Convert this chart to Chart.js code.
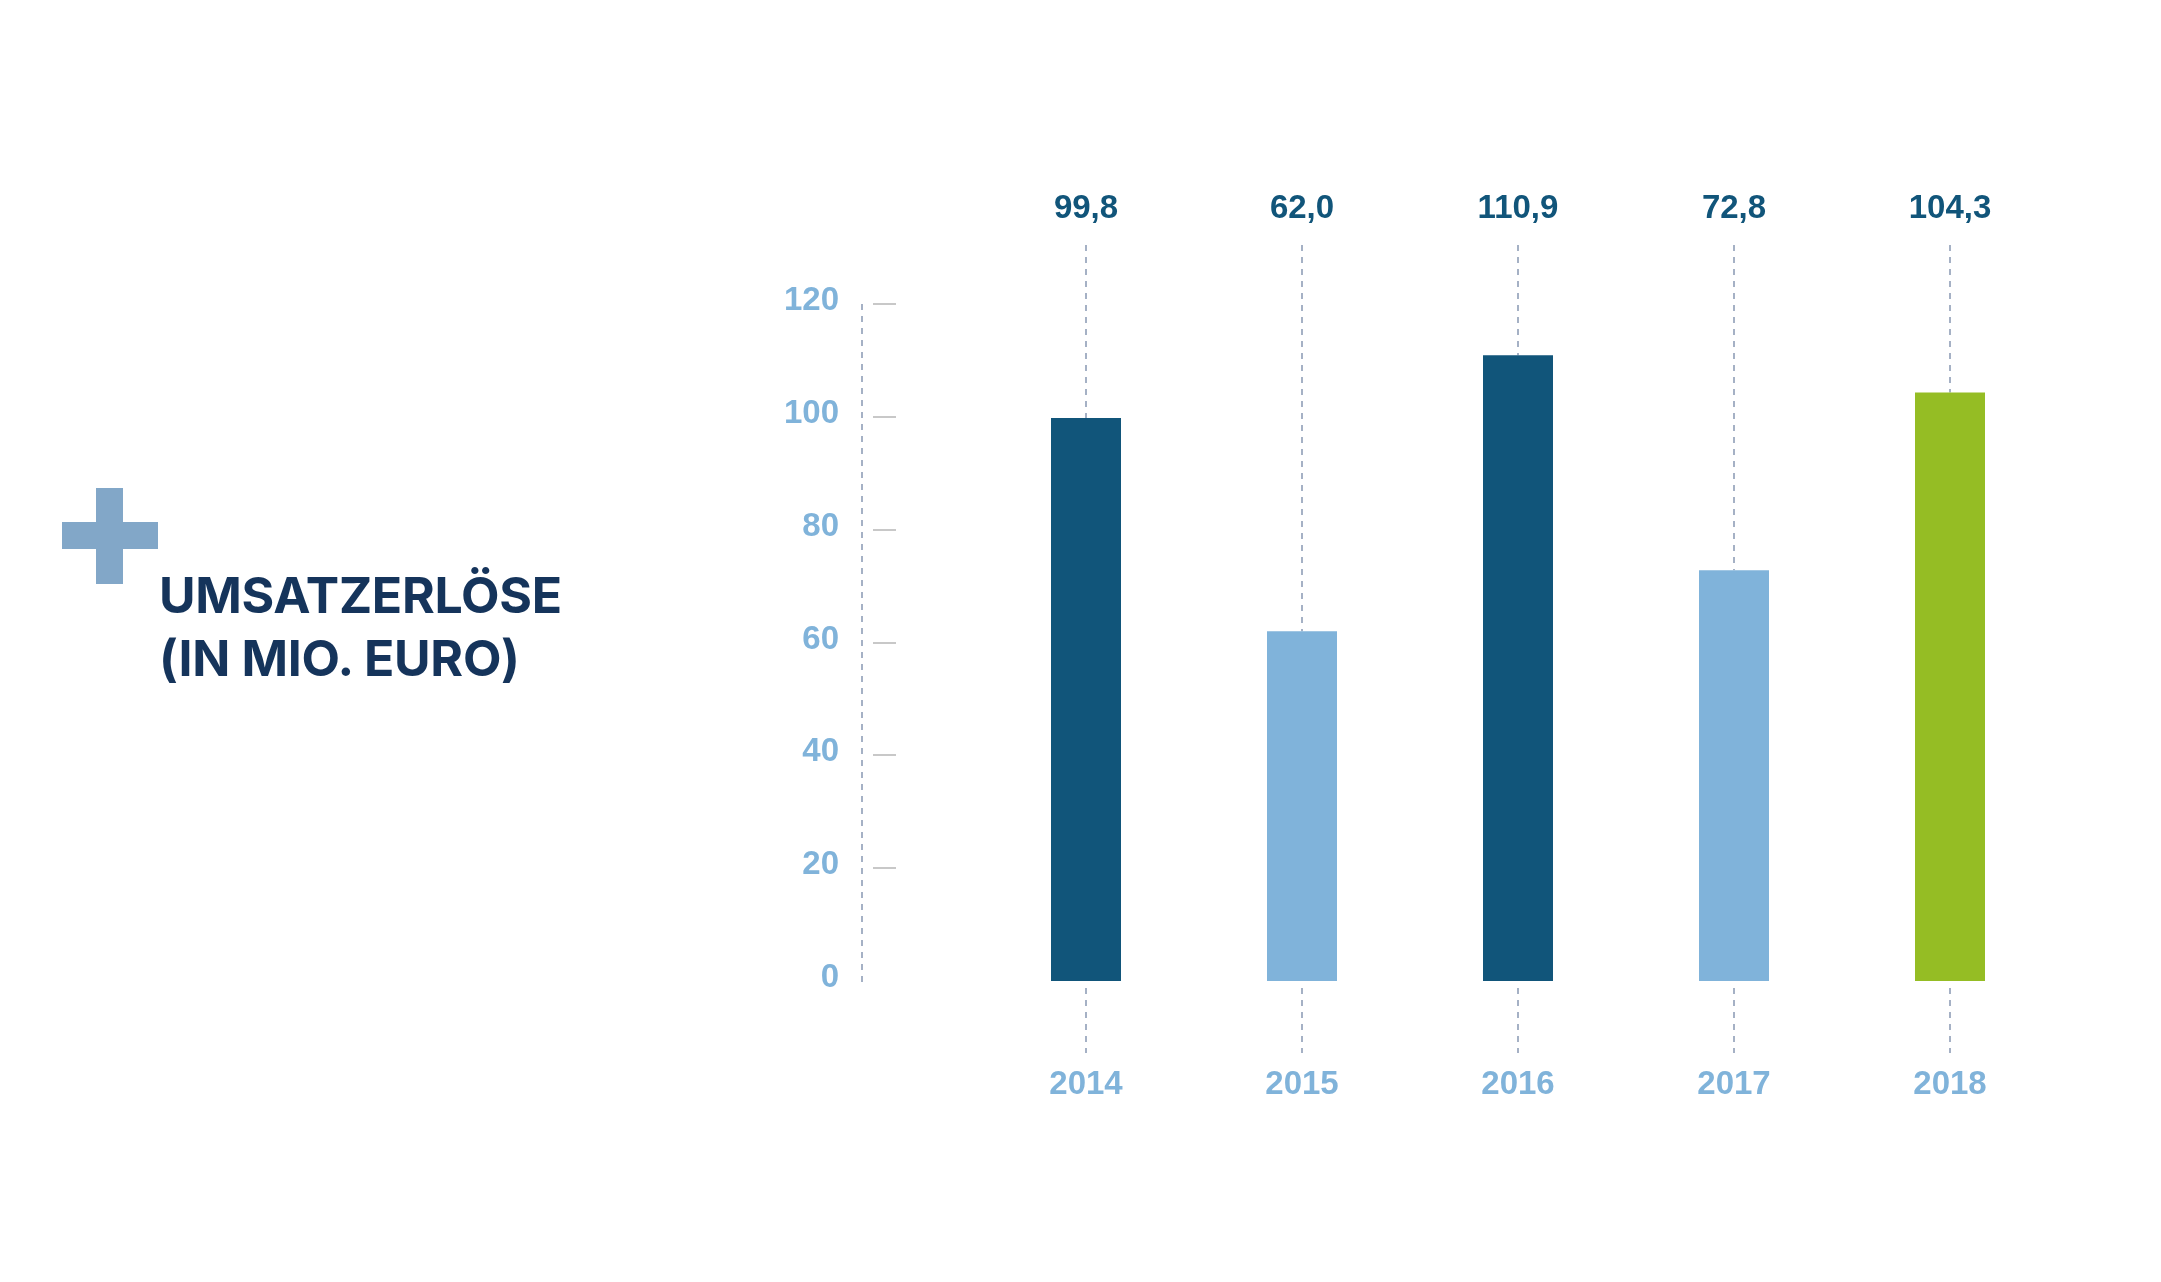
<!DOCTYPE html>
<html>
<head>
<meta charset="utf-8">
<script src="https://cdn.jsdelivr.net/npm/chart.js@4/dist/chart.umd.min.js"></script>
<style>
html, body { margin: 0; padding: 0; background: #fff; }
#wrap { position: relative; width: 2161px; height: 1282px; }
#chart { position: absolute; left: 0; top: 0; }
.plus-v { position: absolute; left: 96px; top: 488px; width: 27px; height: 96px; background: #82a7c8; }
.plus-h { position: absolute; left: 62px; top: 522px; width: 96px; height: 27px; background: #82a7c8; }
.title { position: absolute; left: 159px; top: 564px; font: 700 50px Inter, sans-serif; letter-spacing: -0.3px; line-height: 63px; color: #15345b; white-space: nowrap; }
</style>
</head>
<body>
<div id="wrap">
  <canvas id="chart" width="2161" height="1282"></canvas>
  <div class="plus-v"></div>
  <div class="plus-h"></div>
  <div class="title">UMSATZERLÖSE<br>(IN MIO. EURO)</div>
</div>
<script>
var years = ['2014', '2015', '2016', '2017', '2018'];
var revenue = [99.8, 62.0, 110.9, 72.8, 104.3];
var barColors = ['#11557a', '#80b3da', '#11557a', '#80b3da', '#95bd24'];
var yTicks = [0, 20, 40, 60, 80, 100, 120];

var darkBlue = '#11557a';
var lightBlue = '#80b3da';
var dashColor = '#a5b1c5';
var numFont = { family: 'Liberation Sans', size: 33, weight: 'bold' };

function fmt(v) {
  return v.toFixed(1).replace('.', ',');
}

function dashed(ctx, x, y1, y2) {
  ctx.save();
  ctx.strokeStyle = dashColor;
  ctx.lineWidth = 2;
  ctx.setLineDash([6, 6]);
  ctx.beginPath();
  ctx.moveTo(x, y1);
  ctx.lineTo(x, y2);
  ctx.stroke();
  ctx.restore();
}

// dashed axis, small tick marks, guides above/below bars, value labels
var decor = {
  id: 'decor',
  beforeDatasetsDraw: function(chart) {
    var ctx = chart.ctx;
    var y = chart.scales.y;
    dashed(ctx, 862, y.getPixelForValue(120), y.getPixelForValue(0) + 2);
    ctx.save();
    ctx.strokeStyle = '#c8c8c8';
    ctx.lineWidth = 2;
    yTicks.forEach(function(v) {
      if (v === 0) return;
      var py = Math.round(y.getPixelForValue(v));
      ctx.beginPath();
      ctx.moveTo(873, py);
      ctx.lineTo(896, py);
      ctx.stroke();
    });
    ctx.restore();

    var meta = chart.getDatasetMeta(0);
    meta.data.forEach(function(bar) {
      dashed(ctx, bar.x, 245, bar.y);
      dashed(ctx, bar.x, 988, 1053);
    });
  },
  afterDatasetsDraw: function(chart) {
    var ctx = chart.ctx;
    var meta = chart.getDatasetMeta(0);
    ctx.save();
    ctx.fillStyle = darkBlue;
    ctx.font = 'bold 33px "Liberation Sans"';
    ctx.textAlign = 'center';
    ctx.textBaseline = 'middle';
    meta.data.forEach(function(bar, i) {
      ctx.fillText(fmt(revenue[i]), bar.x, 209);
    });
    ctx.restore();
  }
};

var ctx = document.getElementById('chart').getContext('2d');
var chart = new Chart(ctx, {
  type: 'bar',
  data: {
    labels: years,
    datasets: [{
      data: revenue,
      backgroundColor: barColors,
      borderWidth: 0,
      barPercentage: 1,
      categoryPercentage: 70 / 216
    }]
  },
  options: {
    responsive: false,
    animation: false,
    layout: { padding: { left: 0, right: 103, top: 304, bottom: 0 } },
    plugins: {
      legend: { display: false },
      tooltip: { enabled: false }
    },
    scales: {
      x: {
        grid: { display: false, drawTicks: false },
        border: { display: false },
        ticks: { color: lightBlue, font: numFont, padding: 84 },
        afterFit: function(s) { s.height = 301; }
      },
      y: {
        min: 0,
        max: 120,
        afterBuildTicks: function(s) {
          s.ticks = yTicks.map(function(v) { return { value: v }; });
        },
        grid: { display: false, drawTicks: false },
        border: { display: false },
        ticks: { color: lightBlue, font: numFont, padding: 139, labelOffset: -3 },
        afterFit: function(s) { s.width = 978; }
      }
    }
  },
  plugins: [decor]
});
</script>
</body>
</html>
